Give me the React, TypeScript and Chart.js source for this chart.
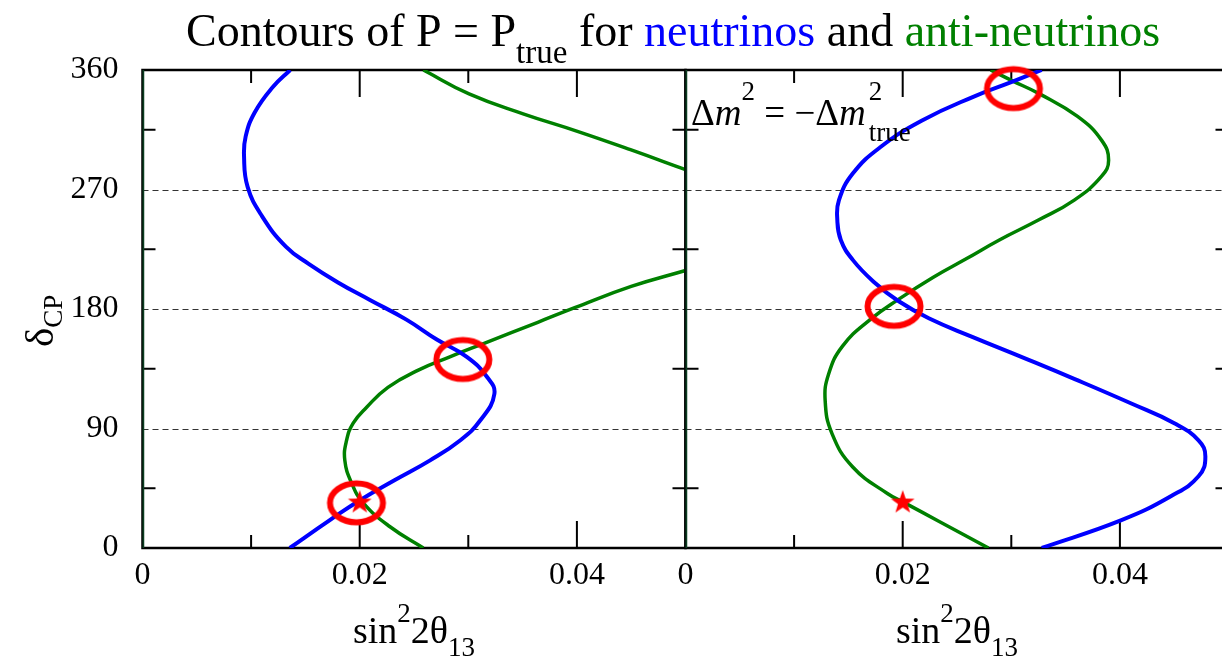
import React, { useEffect, useRef } from 'react';
import { Chart, registerables } from 'chart.js';

Chart.register(...registerables);

const W = 1222;
const H = 659;
const FONT = '"Liberation Serif", "DejaVu Serif", serif';

// ---- axes ----
const X_MIN = 0;
const X_MAX = 0.05;
const Y_MIN = 0;
const Y_MAX = 360;
const X_TICKS = [0, 0.02, 0.04];
const X_TICK_LABELS = ['0', '0.02', '0.04'];
const X_MINOR = [0.01, 0.03];
const X_MAJOR = [0.02, 0.04];
const Y_TICKS = [0, 90, 180, 270, 360];
const Y_TICK_LABELS = ['0', '90', '180', '270', '360'];
const Y_MINOR = [45, 135, 225, 315];
const Y_GRID = [90, 180, 270];

// ---- left panel ----
const LEFT_NU_DELTA = [0, 21, 36, 51, 66, 81, 96, 116, 129, 144, 157, 172, 187, 200, 214, 227, 250, 272, 295, 310, 328, 347, 360];
const LEFT_NU_S = [0.01356, 0.01725, 0.02002, 0.0232, 0.02648, 0.02924, 0.03109, 0.0324, 0.03171, 0.02986, 0.0271, 0.0243, 0.0209, 0.018, 0.0153, 0.0132, 0.011, 0.00968, 0.00935, 0.0095, 0.01033, 0.01198, 0.0136];
const LEFT_ANTI_LOW_DELTA = [0, 16, 34, 49, 66, 81, 94, 106, 121, 134, 144, 154, 170, 181, 197, 209];
const LEFT_ANTI_LOW_S = [0.02586, 0.02279, 0.02032, 0.01925, 0.01863, 0.01879, 0.0194, 0.02064, 0.0226, 0.0254, 0.0283, 0.0314, 0.0364, 0.0398, 0.045, 0.05];
const LEFT_ANTI_HIGH_DELTA = [285, 300, 314, 327, 342, 360];
const LEFT_ANTI_HIGH_S = [0.05, 0.04493, 0.03998, 0.03505, 0.03007, 0.02586];
const LEFT_CIRCLE_S = [0.0197, 0.0295];
const LEFT_CIRCLE_DELTA = [34, 142];

// ---- right panel ----
const RIGHT_NU_DELTA = [0, 21, 39, 54, 69, 81, 94, 109, 127, 143, 159, 173, 186, 200, 217, 232, 247, 262, 282, 302, 322, 340, 351, 360];
const RIGHT_NU_S = [0.0328, 0.04014, 0.04469, 0.04724, 0.04787, 0.04724, 0.04501, 0.041, 0.0359, 0.0312, 0.0264, 0.0224, 0.0196, 0.0174, 0.0154, 0.0143, 0.01398, 0.01413, 0.0154, 0.01796, 0.02178, 0.02655, 0.03005, 0.0328];
const RIGHT_ANTI_DELTA = [0, 20, 34, 41, 61, 86, 111, 131, 152, 172, 188, 204, 218, 232, 247, 262, 280, 292, 307, 325, 342, 352, 360];
const RIGHT_ANTI_S = [0.0279, 0.02336, 0.02018, 0.01859, 0.0154, 0.0135, 0.01286, 0.01318, 0.01446, 0.017, 0.01975, 0.02282, 0.02589, 0.0289, 0.0325, 0.0358, 0.03832, 0.03896, 0.03832, 0.0361, 0.0326, 0.03005, 0.0281];
const RIGHT_CIRCLE_S = [0.0192, 0.0302];
const RIGHT_CIRCLE_DELTA = [182, 346];

// ---- shared ----
const TRUE_S = [0.02];
const TRUE_DELTA = [35];
const ZERO_S = [0, 0];
const ZERO_DELTA = [0, 360];

const BLUE = '#0000ff';
const GREEN = '#008000';
const RED = '#ff0000';

type Seg = { t: string; size: number; color?: string; dy?: number; italic?: boolean };

const zip = (xs: number[], ys: number[]) => xs.map((x, i) => ({ x, y: ys[i] }));

function segFont(s: Seg) {
  return `${s.italic ? 'italic ' : ''}${s.size}px ${FONT}`;
}
function measureSegs(ctx: CanvasRenderingContext2D, segs: Seg[]) {
  let w = 0;
  for (const s of segs) {
    ctx.font = segFont(s);
    w += ctx.measureText(s.t).width;
  }
  return w;
}
function drawSegs(ctx: CanvasRenderingContext2D, segs: Seg[], x: number, y: number) {
  let cx = x;
  for (const s of segs) {
    ctx.font = segFont(s);
    ctx.fillStyle = s.color || '#000';
    ctx.fillText(s.t, cx, y + (s.dy || 0));
    cx += ctx.measureText(s.t).width;
  }
  return cx;
}

function makeEllipse() {
  const c = document.createElement('canvas');
  c.width = 68;
  c.height = 54;
  const g = c.getContext('2d')!;
  g.strokeStyle = RED;
  g.lineWidth = 6;
  g.beginPath();
  g.ellipse(34, 27, 26.5, 19.5, 0, 0, Math.PI * 2);
  g.stroke();
  return c;
}
function makeStar() {
  const c = document.createElement('canvas');
  c.width = 30;
  c.height = 30;
  const g = c.getContext('2d')!;
  g.fillStyle = RED;
  g.beginPath();
  const R = 12.5, r = 5.0, cx = 15, cy = 16;
  for (let i = 0; i < 10; i++) {
    const rad = i % 2 === 0 ? R : r;
    const a = -Math.PI / 2 + (i * Math.PI) / 5;
    const px = cx + rad * Math.cos(a);
    const py = cy + rad * Math.sin(a);
    if (i === 0) g.moveTo(px, py);
    else g.lineTo(px, py);
  }
  g.closePath();
  g.fill();
  return c;
}

const CHART_TOP = 70;
const CHART_BOTTOM = 548;

function framePlugin(extra: (chart: any) => void) {
  return {
    id: 'frame' + Math.random().toString(36).slice(2),
    beforeDatasetsDraw(chart: any) {
      const { ctx, chartArea: a, scales } = chart;
      const x = scales.x;
      const y = scales.y;
      ctx.save();
      ctx.strokeStyle = '#333';
      ctx.lineWidth = 1.2;
      ctx.setLineDash([6, 4]);
      for (const v of Y_GRID) {
        const py = Math.round(y.getPixelForValue(v)) + 0.5;
        ctx.beginPath();
        ctx.moveTo(a.left, py);
        ctx.lineTo(a.right, py);
        ctx.stroke();
      }
      ctx.setLineDash([]);
      ctx.strokeStyle = '#000';
      ctx.lineWidth = 2.5;
      ctx.strokeRect(a.left, a.top, a.right - a.left, a.bottom - a.top);
      ctx.lineWidth = 2;
      const tick = (vals: number[], len: number) => {
        for (const v of vals) {
          const px = x.getPixelForValue(v);
          ctx.beginPath();
          ctx.moveTo(px, a.bottom);
          ctx.lineTo(px, a.bottom - len);
          ctx.moveTo(px, a.top);
          ctx.lineTo(px, a.top + len);
          ctx.stroke();
        }
      };
      tick(X_MINOR, 13);
      tick(X_MAJOR, 27);
      for (const v of Y_MINOR) {
        const py = y.getPixelForValue(v);
        ctx.beginPath();
        ctx.moveTo(a.left, py);
        ctx.lineTo(a.left + 13, py);
        ctx.moveTo(a.right, py);
        ctx.lineTo(a.right - 13, py);
        ctx.stroke();
      }
      ctx.restore();
    },
    afterDraw(chart: any) {
      const ctx = chart.ctx;
      ctx.save();
      ctx.textAlign = 'left';
      ctx.textBaseline = 'alphabetic';
      extra(chart);
      ctx.restore();
    },
  };
}

const X_LABEL: Seg[] = [
  { t: 'sin', size: 38 },
  { t: '2', size: 27, dy: -21 },
  { t: '2θ', size: 38 },
  { t: '13', size: 27, dy: 13 },
];

function drawXLabel(chart: any) {
  const { ctx, chartArea: a } = chart;
  const w = measureSegs(ctx, X_LABEL);
  drawSegs(ctx, X_LABEL, (a.left + a.right) / 2 - w / 2, 643);
}

function lineDs(xs: number[], ys: number[], color: string, width: number) {
  return {
    data: zip(xs, ys),
    showLine: true,
    borderColor: color,
    backgroundColor: color,
    borderWidth: width,
    pointRadius: 0,
    tension: 0.45,
    fill: false,
  };
}
function markerDs(xs: number[], ys: number[], style: HTMLCanvasElement) {
  return {
    data: zip(xs, ys),
    showLine: false,
    pointStyle: style,
    pointRadius: 10,
    clip: false,
  };
}

function panelConfig(p: { padLeft: number; padRight: number; showY: boolean; datasets: any[]; extra: (c: any) => void }) {
  return {
    type: 'scatter',
    data: { datasets: p.datasets },
    options: {
      animation: false,
      responsive: false,
      events: [],
      layout: { padding: { left: p.padLeft, right: p.padRight, top: CHART_TOP, bottom: 0 } },
      plugins: { legend: { display: false }, tooltip: { enabled: false }, title: { display: false } },
      scales: {
        x: {
          type: 'linear',
          min: X_MIN,
          max: X_MAX,
          grid: { display: false, drawTicks: false },
          border: { display: false },
          afterBuildTicks: (s: any) => {
            s.ticks = X_TICKS.map((v) => ({ value: v }));
          },
          afterFit: (s: any) => {
            s.height = H - CHART_BOTTOM;
          },
          ticks: {
            autoSkip: false,
            maxRotation: 0,
            minRotation: 0,
            padding: 8,
            color: '#000',
            font: { family: FONT, size: 32 },
            callback: (v: number) => {
              const i = X_TICKS.indexOf(v);
              return i >= 0 ? X_TICK_LABELS[i] : '';
            },
          },
        },
        y: {
          type: 'linear',
          min: Y_MIN,
          max: Y_MAX,
          display: p.showY,
          grid: { display: false, drawTicks: false },
          border: { display: false },
          afterBuildTicks: (s: any) => {
            s.ticks = Y_TICKS.map((v) => ({ value: v }));
          },
          afterFit: (s: any) => {
            if (p.showY) s.width = 142.5;
          },
          ticks: {
            autoSkip: false,
            padding: 24,
            color: '#000',
            font: { family: FONT, size: 32 },
            callback: (v: number) => {
              const i = Y_TICKS.indexOf(v);
              return i >= 0 ? Y_TICK_LABELS[i] : '';
            },
          },
        },
      },
    },
    plugins: [framePlugin(p.extra)],
  };
}

export default function App() {
  const leftRef = useRef<HTMLCanvasElement>(null);
  const rightRef = useRef<HTMLCanvasElement>(null);

  useEffect(() => {
    const ellipse = makeEllipse();
    const star = makeStar();

    const left = new Chart(
      leftRef.current as HTMLCanvasElement,
      panelConfig({
        padLeft: 0,
        padRight: W - 685.5,
        showY: true,
        datasets: [
          markerDs(TRUE_S, TRUE_DELTA, star),
          markerDs(LEFT_CIRCLE_S, LEFT_CIRCLE_DELTA, ellipse),
          lineDs(LEFT_NU_S, LEFT_NU_DELTA, BLUE, 4),
          lineDs(LEFT_ANTI_LOW_S, LEFT_ANTI_LOW_DELTA, GREEN, 3.5),
          lineDs(LEFT_ANTI_HIGH_S, LEFT_ANTI_HIGH_DELTA, GREEN, 3.5),
          { ...lineDs(ZERO_S, ZERO_DELTA, '#0b3d20', 3.5), tension: 0 },
        ],
        extra: (chart: any) => {
          const ctx = chart.ctx;
          drawSegs(
            ctx,
            [
              { t: 'Contours of P = P', size: 46 },
              { t: 'true', size: 33, dy: 17 },
              { t: ' for ', size: 46 },
              { t: 'neutrinos', size: 46, color: BLUE },
              { t: ' and ', size: 46 },
              { t: 'anti-neutrinos', size: 46, color: GREEN },
            ],
            186,
            46
          );
          drawXLabel(chart);
          ctx.save();
          ctx.translate(53, 347);
          ctx.rotate(-Math.PI / 2);
          drawSegs(ctx, [{ t: 'δ', size: 41 }, { t: 'CP', size: 27, dy: 9 }], 0, 0);
          ctx.restore();
        },
      }) as any
    );

    const right = new Chart(
      rightRef.current as HTMLCanvasElement,
      panelConfig({
        padLeft: 685.5,
        padRight: 1240 - 1228.5,
        showY: false,
        datasets: [
          markerDs(TRUE_S, TRUE_DELTA, star),
          markerDs(RIGHT_CIRCLE_S, RIGHT_CIRCLE_DELTA, ellipse),
          lineDs(RIGHT_NU_S, RIGHT_NU_DELTA, BLUE, 4),
          lineDs(RIGHT_ANTI_S, RIGHT_ANTI_DELTA, GREEN, 3.5),
          { ...lineDs(ZERO_S, ZERO_DELTA, '#0b3d20', 3.5), tension: 0 },
        ],
        extra: (chart: any) => {
          const ctx = chart.ctx;
          drawXLabel(chart);
          let x = drawSegs(
            ctx,
            [
              { t: 'Δ', size: 37 },
              { t: 'm', size: 37, italic: true },
              { t: '2', size: 27, dy: -25 },
              { t: ' = −Δ', size: 37 },
              { t: 'm', size: 37, italic: true },
            ],
            691,
            125
          );
          x += 3;
          drawSegs(ctx, [{ t: '2', size: 27, dy: -25 }], x, 125);
          drawSegs(ctx, [{ t: 'true', size: 27, dy: 16 }], x, 125);
        },
      }) as any
    );

    return () => {
      left.destroy();
      right.destroy();
    };
  }, []);

  return (
    <div style={{ position: 'absolute', left: 0, top: 0, width: W, height: H, overflow: 'hidden', background: '#fff' }}>
      <canvas ref={leftRef} width={W} height={H} style={{ position: 'absolute', left: 0, top: 0 }} />
      <canvas ref={rightRef} width={1240} height={H} style={{ position: 'absolute', left: 0, top: 0 }} />
    </div>
  );
}
